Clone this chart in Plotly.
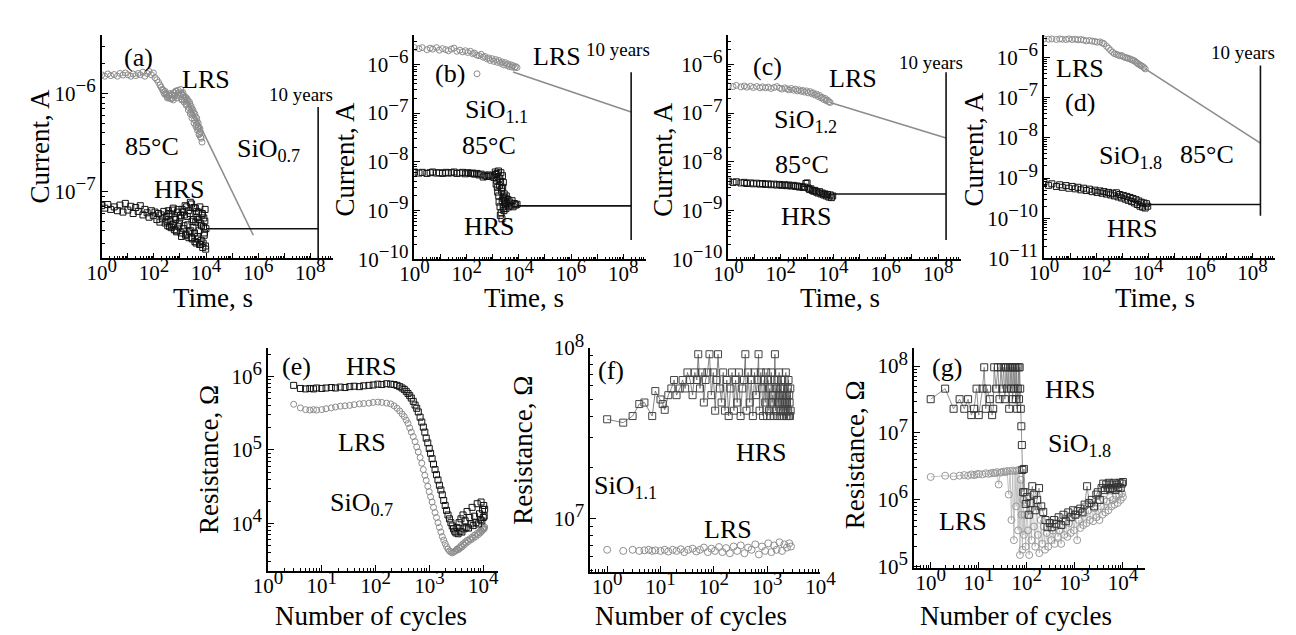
import plotly.graph_objects as go

W, H = 1296, 635
FONT = "Liberation Serif, Times New Roman, serif"
C_LRS = "#8c8c8c"
C_HRS = "#111111"

# ---------------- data ----------------
t_10y = 2.0e8  # position of the "10 years" marker on the time axis

# (a) SiO0.7
a_lrs_t = [1, 1.3, 1.7, 2.2, 3, 4, 5, 6.5, 8, 10,
           13, 16, 20, 25, 30, 38, 45, 55, 65, 80,
           95, 110, 130, 150, 170, 190, 210, 240, 270, 300,
           340, 380, 420, 470, 520, 580, 650, 720, 800, 900,
           1000, 1100, 1200, 1350, 1500, 1650, 1800, 2000, 2200, 2400,
           2600, 2800, 3000, 3300, 3600, 3900, 4200, 4500, 4800, 5200,
           5600, 6000, 6500, 7000,
           230, 260, 290, 330, 370, 410, 460, 510, 560, 620,
           690, 770, 860, 960, 1070, 1180, 1300, 1430, 1580, 1730,
           1900, 2100, 2300, 2500, 2700, 2900, 3150, 3450, 3750, 4100,
           4400, 4700, 5000, 5400, 5800, 6200]
a_lrs_i = [1.55e-6, 1.50e-6, 1.58e-6, 1.52e-6, 1.56e-6, 1.50e-6, 1.60e-6, 1.54e-6, 1.62e-6, 1.55e-6,
           1.50e-6, 1.58e-6, 1.52e-6, 1.60e-6, 1.55e-6, 1.65e-6, 1.50e-6, 1.60e-6, 1.68e-6, 1.55e-6,
           1.62e-6, 1.45e-6, 1.38e-6, 1.30e-6, 1.22e-6, 1.16e-6, 1.10e-6, 1.02e-6, 1.05e-6, 9.6e-7,
           9.2e-7, 9.5e-7, 8.9e-7, 9.8e-7, 9.0e-7, 1.02e-6, 9.5e-7, 1.05e-6, 9.8e-7, 1.02e-6,
           9.3e-7, 1.0e-6, 8.8e-7, 9.6e-7, 8.5e-7, 9.2e-7, 7.8e-7, 8.4e-7, 7.2e-7, 7.8e-7,
           6.5e-7, 7.0e-7, 6.0e-7, 6.4e-7, 5.4e-7, 5.8e-7, 4.8e-7, 5.2e-7, 4.4e-7, 4.6e-7,
           3.9e-7, 4.1e-7, 3.5e-7, 3.2e-7,
           1.08e-6, 9.8e-7, 1.0e-6, 9.0e-7, 9.6e-7, 1.0e-6, 8.8e-7, 9.6e-7, 8.6e-7, 9.4e-7,
           1.06e-6, 9.0e-7, 1.08e-6, 9.6e-7, 1.1e-6, 8.6e-7, 1.02e-6, 8.2e-7, 9.0e-7, 7.6e-7,
           8.8e-7, 6.8e-7, 8.2e-7, 6.2e-7, 7.4e-7, 5.6e-7, 6.8e-7, 5.0e-7, 6.2e-7, 4.6e-7,
           5.6e-7, 4.2e-7, 5.0e-7, 3.8e-7, 4.4e-7, 3.6e-7]
a_hrs_t = [1, 1.3, 1.7, 2.2, 3, 4, 5, 6.5, 8, 10,
           13, 16, 20, 25, 30, 38, 45, 55, 65, 80,
           95, 110, 130, 150, 170, 190, 210, 240, 270, 300,
           340, 380, 420, 470, 520, 580, 650, 720, 800, 900,
           1000, 1100, 1200, 1350, 1500, 1650, 1800, 2000, 2200, 2400,
           2600, 2800, 3000, 3300, 3600, 3900, 4200, 4500, 4800, 5200,
           5600, 6000, 6500, 7000, 7500, 8000, 8500, 9000, 9500, 9900,
           320, 360, 400, 450, 500, 550, 610, 680, 750, 850,
           950, 1050, 1150, 1280, 1420, 1580, 1720, 1900, 2100, 2300,
           2500, 2700, 2900, 3150, 3450, 3750, 4050, 4350, 4650, 5000,
           5400, 5800, 6200, 6700, 7200, 7700, 8200, 8700, 9200, 9700]
a_hrs_i = [7.2e-8, 6.8e-8, 7.4e-8, 6.6e-8, 7.0e-8, 6.4e-8, 7.3e-8, 6.2e-8, 7.6e-8, 6.5e-8,
           7.1e-8, 6.0e-8, 6.9e-8, 6.3e-8, 7.2e-8, 5.8e-8, 6.6e-8, 6.1e-8, 5.5e-8, 6.4e-8,
           5.7e-8, 6.2e-8, 5.2e-8, 6.0e-8, 4.9e-8, 5.8e-8, 5.3e-8, 6.3e-8, 4.8e-8, 5.6e-8,
           4.5e-8, 6.0e-8, 5.0e-8, 4.3e-8, 6.5e-8, 4.7e-8, 5.5e-8, 4.0e-8, 6.2e-8, 4.4e-8,
           5.4e-8, 3.8e-8, 6.6e-8, 4.2e-8, 5.8e-8, 3.6e-8, 7.0e-8, 4.6e-8, 3.4e-8, 6.0e-8,
           4.0e-8, 7.5e-8, 3.3e-8, 5.2e-8, 3.8e-8, 6.8e-8, 3.0e-8, 5.5e-8, 3.5e-8, 6.2e-8,
           2.9e-8, 4.8e-8, 3.2e-8, 5.8e-8, 2.7e-8, 4.4e-8, 3.6e-8, 5.0e-8, 2.8e-8, 4.2e-8,
           5.0e-8, 6.4e-8, 4.4e-8, 5.9e-8, 4.6e-8, 6.8e-8, 4.1e-8, 5.2e-8, 3.9e-8, 6.6e-8,
           4.8e-8, 5.7e-8, 3.5e-8, 6.2e-8, 4.5e-8, 7.2e-8, 3.7e-8, 5.6e-8, 6.4e-8, 3.9e-8,
           7.8e-8, 3.4e-8, 5.0e-8, 4.3e-8, 6.9e-8, 3.1e-8, 4.9e-8, 6.3e-8, 3.3e-8, 5.2e-8,
           4.0e-8, 7.0e-8, 2.9e-8, 4.5e-8, 6.0e-8, 3.0e-8, 5.4e-8, 3.8e-8, 6.6e-8, 2.6e-8]
a_lrs_fit_t = [1250, 6.5e5]
a_lrs_fit_i = [1.1e-6, 3.6e-8]
a_hrs_fit_t = [9900, t_10y]
a_hrs_fit_i = [4.2e-8, 4.2e-8]
a_10y_i = [7.3e-7, 2.1e-8]

# (b) SiO1.1
b_lrs_t = [1, 1.5, 2, 3, 4, 5, 7, 9, 12, 16,
           20, 26, 33, 42, 55, 70, 90, 110, 140, 170,
           200, 245, 250, 300, 360, 430, 500, 600, 700, 800,
           950, 1100, 1300, 1500, 1700, 2000, 2300, 2600, 3000, 3400,
           3800, 4300, 4800, 5400, 6000, 6800, 7500, 8500]
b_lrs_i = [2.2e-6, 2.1e-6, 2.2e-6, 2.0e-6, 2.15e-6, 2.05e-6, 2.2e-6, 1.95e-6, 2.1e-6, 2.0e-6,
           1.9e-6, 2.05e-6, 2.15e-6, 1.85e-6, 1.95e-6, 1.8e-6, 1.9e-6, 1.75e-6, 1.85e-6, 1.65e-6,
           1.7e-6, 1.55e-6, 6.4e-7, 1.5e-6, 1.6e-6, 1.4e-6, 1.45e-6, 1.3e-6, 1.35e-6, 1.2e-6,
           1.3e-6, 1.15e-6, 1.25e-6, 1.1e-6, 1.2e-6, 1.05e-6, 1.12e-6, 9.8e-7, 1.08e-6, 9.5e-7,
           1.02e-6, 9.0e-7, 9.8e-7, 8.8e-7, 9.4e-7, 8.6e-7, 9.0e-7, 8.6e-7]
b_hrs_t = [1, 1.5, 2, 3, 4, 5, 7, 9, 12, 16,
           20, 26, 33, 42, 55, 70, 90, 110, 140, 170,
           200, 250, 300, 360, 430, 500, 600, 700, 800, 950,
           1100, 1250, 1350, 1450, 1550, 1650, 1750, 1850, 1950, 2050,
           2150, 2250, 2350, 2450, 2550, 2650, 2750, 2900, 3100, 3300,
           3500, 3800, 4100, 4500, 5000, 5500, 6000, 6700, 7500, 8500,
           1300, 1400, 1500, 1600, 1700, 1800, 1900, 2000, 2100, 2200,
           2300, 2400, 2500, 2600, 2700, 2800, 3000, 3200]
b_hrs_i = [6.2e-9, 5.9e-9, 6.1e-9, 5.8e-9, 6.0e-9, 6.2e-9, 5.9e-9, 6.0e-9, 5.8e-9, 6.1e-9,
           5.9e-9, 6.0e-9, 6.2e-9, 5.8e-9, 5.9e-9, 6.1e-9, 5.7e-9, 6.0e-9, 5.8e-9, 5.9e-9,
           5.6e-9, 5.8e-9, 5.4e-9, 5.6e-9, 4.9e-9, 5.3e-9, 5.0e-9, 5.4e-9, 5.1e-9, 5.2e-9,
           4.8e-9, 6.2e-9, 3.5e-9, 5.8e-9, 2.4e-9, 6.5e-9, 1.5e-9, 4.6e-9, 8.0e-10, 6.0e-9,
           2.8e-9, 6.8e-10, 5.2e-9, 1.8e-9, 3.8e-9, 1.1e-9, 2.2e-9, 1.6e-9, 1.3e-9, 2.0e-9,
           1.4e-9, 1.7e-9, 1.2e-9, 1.5e-9, 1.3e-9, 1.6e-9, 1.2e-9, 1.4e-9, 1.3e-9, 1.35e-9,
           5.5e-9, 4.2e-9, 3.0e-9, 5.0e-9, 2.0e-9, 3.3e-9, 1.2e-9, 4.0e-9, 9.0e-10, 2.5e-9,
           1.6e-9, 3.0e-9, 1.2e-9, 1.9e-9, 1.0e-9, 1.5e-9, 1.8e-9, 1.1e-9]
b_lrs_fit_t = [6000, t_10y]
b_lrs_fit_i = [7.0e-7, 1.05e-7]
b_hrs_fit_t = [8500, t_10y]
b_hrs_fit_i = [1.25e-9, 1.25e-9]
b_10y_i = [6.9e-7, 2.5e-10]

# (c) SiO1.2
c_lrs_t = [1, 1.5, 2, 3, 4, 5, 7, 9, 12, 16,
           20, 26, 33, 42, 55, 70, 90, 110, 140, 170,
           200, 250, 300, 360, 430, 500, 600, 700, 800, 950,
           1100, 1300, 1500, 1700, 2000, 2300, 2600, 3000, 3400, 3800,
           4300, 4800, 5400, 6000, 6800, 7600]
c_lrs_i = [3.6e-7, 3.5e-7, 3.7e-7, 3.45e-7, 3.6e-7, 3.4e-7, 3.55e-7, 3.35e-7, 3.5e-7, 3.3e-7,
           3.45e-7, 3.3e-7, 3.4e-7, 3.2e-7, 3.35e-7, 3.5e-7, 3.25e-7, 3.1e-7, 3.3e-7, 3.15e-7,
           3.0e-7, 3.2e-7, 2.95e-7, 3.1e-7, 2.85e-7, 3.0e-7, 2.8e-7, 2.9e-7, 2.7e-7, 2.85e-7,
           2.6e-7, 2.75e-7, 2.5e-7, 2.6e-7, 2.35e-7, 2.45e-7, 2.2e-7, 2.3e-7, 2.05e-7, 2.1e-7,
           1.9e-7, 2.0e-7, 1.8e-7, 1.85e-7, 1.7e-7, 1.65e-7]
c_hrs_t = [1, 1.5, 2, 3, 4, 5, 7, 9, 12, 16,
           20, 26, 33, 42, 55, 70, 90, 110, 140, 170,
           200, 250, 300, 360, 430, 500, 600, 700, 800, 900,
           1000, 1100, 1250, 1400, 1600, 1800, 2000, 2300, 2600, 3000,
           3400, 3800, 4300, 4800, 5400, 6000, 6800, 7600, 8500, 9500]
c_hrs_i = [4.0e-9, 3.8e-9, 3.9e-9, 3.7e-9, 3.8e-9, 3.6e-9, 3.7e-9, 3.55e-9, 3.65e-9, 3.5e-9,
           3.6e-9, 3.45e-9, 3.55e-9, 3.4e-9, 3.5e-9, 3.35e-9, 3.45e-9, 3.3e-9, 3.4e-9, 3.25e-9,
           3.35e-9, 3.2e-9, 3.3e-9, 3.15e-9, 3.2e-9, 3.05e-9, 3.1e-9, 3.0e-9, 3.05e-9, 3.6e-9,
           3.7e-9, 2.9e-9, 2.7e-9, 2.8e-9, 2.6e-9, 2.5e-9, 2.6e-9, 2.4e-9, 2.3e-9, 2.45e-9,
           2.2e-9, 2.3e-9, 2.1e-9, 2.2e-9, 2.0e-9, 2.15e-9, 1.9e-9, 2.1e-9, 1.85e-9, 2.0e-9]
c_lrs_fit_t = [7600, t_10y]
c_lrs_fit_i = [1.65e-7, 3.1e-8]
c_hrs_fit_t = [9500, t_10y]
c_hrs_fit_i = [2.2e-9, 2.2e-9]
c_10y_i = [6.9e-7, 2.5e-10]

# (d) SiO1.8
d_lrs_t = [1, 1.5, 2, 3, 4, 5, 7, 9, 12, 16,
           20, 26, 33, 42, 55, 70, 90, 110, 140, 170,
           200, 250, 300, 360, 430, 500, 600, 700, 800, 950,
           1100, 1300, 1500, 1700, 2000, 2300, 2600, 3000, 3400, 3800,
           4300, 4800, 5400, 6000, 6800, 7600]
d_lrs_i = [2.9e-6, 2.85e-6, 2.9e-6, 2.8e-6, 2.9e-6, 2.85e-6, 2.8e-6, 2.9e-6, 2.8e-6, 2.85e-6,
           2.75e-6, 2.8e-6, 2.7e-6, 2.6e-6, 2.65e-6, 2.55e-6, 2.5e-6, 2.4e-6, 2.45e-6, 2.3e-6,
           2.2e-6, 1.9e-6, 1.7e-6, 1.5e-6, 1.35e-6, 1.25e-6, 1.2e-6, 1.15e-6, 1.1e-6, 1.12e-6,
           1.05e-6, 1.0e-6, 9.8e-7, 9.5e-7, 9.2e-7, 8.8e-7, 8.5e-7, 8.2e-7, 7.6e-7, 7.2e-7,
           6.8e-7, 6.5e-7, 6.2e-7, 6.0e-7, 5.6e-7, 5.2e-7]
d_hrs_t = [1, 1.5, 2, 3, 4, 5, 7, 9, 12, 16,
           20, 26, 33, 42, 55, 70, 90, 110, 140, 170,
           200, 250, 300, 360, 430, 500, 600, 700, 800, 950,
           1100, 1300, 1500, 1700, 2000, 2300, 2600, 3000, 3400, 3800,
           4300, 4800, 5400, 6000, 6800, 7600, 8500, 9500]
d_hrs_i = [7.8e-10, 6.6e-10, 7.2e-10, 6.2e-10, 6.8e-10, 5.9e-10, 6.5e-10, 5.6e-10, 6.2e-10, 5.4e-10,
           5.9e-10, 5.1e-10, 5.6e-10, 4.9e-10, 5.3e-10, 4.6e-10, 5.0e-10, 4.4e-10, 4.8e-10, 4.2e-10,
           4.6e-10, 4.0e-10, 4.4e-10, 3.8e-10, 4.2e-10, 3.6e-10, 4.3e-10, 3.4e-10, 3.9e-10, 3.2e-10,
           3.7e-10, 3.0e-10, 3.5e-10, 2.8e-10, 3.3e-10, 2.6e-10, 3.1e-10, 2.4e-10, 2.9e-10, 2.2e-10,
           2.7e-10, 2.0e-10, 2.5e-10, 1.9e-10, 2.4e-10, 1.8e-10, 2.3e-10, 2.0e-10]
d_lrs_fit_t = [7600, t_10y]
d_lrs_fit_i = [5.2e-7, 7.4e-9]
d_hrs_fit_t = [9500, t_10y]
d_hrs_fit_i = [2.2e-10, 2.2e-10]
d_10y_i = [6.3e-7, 1.15e-10]

# (e) SiO0.7 endurance
e_cycles = [3, 4, 5, 6, 7, 8, 10, 12, 15, 18,
            22, 27, 33, 40, 50, 60, 75, 90, 110, 130,
            160, 190, 220, 250, 280, 310, 340, 370, 400, 430,
            460, 500, 540, 580, 620, 670, 720, 770, 820, 870,
            930, 990, 1050, 1120, 1190, 1270, 1350, 1440, 1530, 1630,
            1730, 1840, 1960, 2080, 2210, 2350, 2500, 2650, 2800, 2950,
            3100, 3250, 3400, 3550, 3700, 3850, 4000, 4200, 4400, 4600,
            4800, 5000, 5300, 5600, 5900, 6200, 6500, 6900, 7300, 7700,
            8100, 8500, 8800, 9100, 9400, 9700, 10000, 10200, 10400, 10600]
e_hrs_r = [7.6e5, 6.9e5, 6.8e5, 6.9e5, 6.8e5, 7.0e5, 6.9e5, 7.0e5, 7.1e5, 7.0e5,
           7.2e5, 7.1e5, 7.3e5, 7.4e5, 7.3e5, 7.5e5, 7.6e5, 7.7e5, 7.9e5, 7.8e5,
           8.0e5, 7.9e5, 7.8e5, 7.6e5, 7.3e5, 7.0e5, 6.7e5, 6.3e5, 5.9e5, 5.5e5,
           5.1e5, 4.6e5, 4.1e5, 3.7e5, 3.3e5, 2.8e5, 2.4e5, 2.05e5, 1.75e5, 1.45e5,
           1.25e5, 1.05e5, 9.0e4, 7.6e4, 6.4e4, 5.4e4, 4.6e4, 3.9e4, 3.3e4, 2.85e4,
           2.45e4, 2.05e4, 1.75e4, 1.5e4, 1.3e4, 1.15e4, 1.02e4, 9.2e3, 8.4e3, 7.8e3,
           7.4e3, 8.8e3, 7.2e3, 1.02e4, 7.8e3, 1.15e4, 7.6e3, 1.3e4, 8.4e3, 1.08e4,
           8.8e3, 1.45e4, 8.6e3, 1.2e4, 9.8e3, 1.65e4, 9.3e3, 1.25e4, 1.02e4, 1.85e4,
           9.8e3, 1.35e4, 1.12e4, 1.95e4, 1.08e4, 1.55e4, 1.2e4, 1.75e4, 1.25e4, 1.55e4]
e_lrs_r = [4.2e5, 3.75e5, 3.55e5, 3.5e5, 3.55e5, 3.5e5, 3.55e5, 3.65e5, 3.75e5, 3.85e5,
           3.95e5, 4.0e5, 4.05e5, 4.15e5, 4.25e5, 4.3e5, 4.35e5, 4.45e5, 4.5e5, 4.45e5,
           4.35e5, 4.25e5, 4.0e5, 3.7e5, 3.4e5, 3.1e5, 2.85e5, 2.55e5, 2.3e5, 2.0e5,
           1.75e5, 1.52e5, 1.3e5, 1.1e5, 9.4e4, 7.9e4, 6.6e4, 5.4e4, 4.5e4, 3.85e4,
           3.2e4, 2.7e4, 2.3e4, 1.95e4, 1.65e4, 1.4e4, 1.2e4, 1.02e4, 8.8e3, 7.6e3,
           6.6e3, 5.9e3, 5.3e3, 4.8e3, 4.45e3, 4.2e3, 4.05e3, 3.95e3, 4.05e3, 4.15e3,
           4.25e3, 4.45e3, 4.35e3, 4.65e3, 4.55e3, 4.95e3, 4.75e3, 5.25e3, 5.05e3, 5.55e3,
           5.35e3, 5.85e3, 5.65e3, 6.15e3, 5.95e3, 6.5e3, 6.25e3, 6.9e3, 6.6e3, 7.3e3,
           7.0e3, 7.7e3, 7.4e3, 8.1e3, 7.8e3, 8.5e3, 8.2e3, 8.7e3, 8.4e3, 8.9e3]

# (f) SiO1.1 endurance
f_hrs_n = [1, 2, 3, 4, 5, 7, 8, 10, 11, 12, 14,
           16, 18, 20, 23, 26, 29, 32, 36, 40, 44,
           48, 51, 55, 60, 65, 70, 76, 83, 90, 98,
           106, 113, 120, 130, 140, 150, 162, 175, 190, 205,
           220, 238, 256, 275, 295, 318, 342, 368, 390, 410,
           440, 470, 505, 540, 580, 620, 660, 690, 720, 760,
           800, 840, 880, 920, 960, 1000, 1040, 1080, 1120, 1160,
           1200, 1240, 1280, 1320, 1360, 1400, 1440, 1480, 1520, 1560,
           1600, 1640, 1680, 1720, 1760, 1800, 1840, 1880, 1920, 1960,
           2000, 2040, 2080, 2120, 2160, 2200, 2240, 2280, 2320, 2360,
           2400, 2440, 2480, 2520, 2560, 2600, 2640, 2680, 2720, 2760]
f_hrs_r = [3.83e7, 3.66e7, 4.0e7, 4.7e7, 4.8e7, 4.0e7, 5.6e7, 5.0e7, 4.7e7, 4.35e7, 5.3e7,
           5.8e7, 6.5e7, 5.3e7, 5.8e7, 6.5e7, 5.8e7, 7.2e7, 6.5e7, 5.3e7, 7.2e7,
           6.5e7, 9.2e7, 5.8e7, 7.2e7, 4.8e7, 6.5e7, 7.2e7, 9.2e7, 5.3e7, 7.2e7,
           4.3e7, 6.5e7, 9.2e7, 5.8e7, 4.8e7, 7.2e7, 4.3e7, 6.5e7, 4.0e7, 5.8e7,
           7.2e7, 4.3e7, 6.5e7, 4.8e7, 7.2e7, 4.0e7, 5.8e7, 6.5e7, 9.2e7, 4.3e7,
           7.2e7, 4.8e7, 6.5e7, 4.0e7, 7.2e7, 5.3e7, 6.5e7, 9.2e7, 4.3e7, 7.2e7,
           5.8e7, 4.0e7, 6.5e7, 4.8e7, 7.2e7, 4.0e7, 6.5e7, 4.3e7, 5.8e7, 4.0e7,
           7.2e7, 4.8e7, 5.3e7, 4.0e7, 6.5e7, 9.2e7, 4.3e7, 5.8e7, 4.0e7, 6.5e7,
           4.8e7, 5.3e7, 7.2e7, 4.0e7, 5.8e7, 4.3e7, 6.5e7, 4.8e7, 4.0e7, 5.3e7,
           4.3e7, 5.8e7, 4.0e7, 6.5e7, 4.8e7, 4.3e7, 7.2e7, 4.0e7, 5.3e7, 4.8e7,
           4.0e7, 5.8e7, 4.3e7, 6.5e7, 4.0e7, 5.3e7, 4.8e7, 4.0e7, 5.8e7, 4.3e7]
f_lrs_n = [1, 2, 3, 4, 5, 6, 7, 8, 10, 12,
           14, 17, 20, 24, 28, 33, 40, 47, 55, 65,
           77, 90, 105, 125, 145, 170, 200, 235, 275, 320,
           375, 440, 510, 600, 700, 800, 920, 1050, 1200, 1350,
           1500, 1700, 1900, 2100, 2350, 2600, 2800]
f_lrs_r = [6.6e6, 6.5e6, 6.6e6, 6.5e6, 6.55e6, 6.6e6, 6.5e6, 6.55e6, 6.5e6, 6.6e6,
           6.45e6, 6.6e6, 6.5e6, 6.65e6, 6.4e6, 6.6e6, 6.7e6, 6.45e6, 6.6e6, 6.8e6,
           6.4e6, 6.7e6, 6.5e6, 6.85e6, 6.4e6, 6.75e6, 6.3e6, 6.9e6, 6.5e6, 7.0e6,
           6.3e6, 6.8e6, 6.6e6, 7.1e6, 6.2e6, 6.9e6, 6.5e6, 7.2e6, 6.4e6, 7.0e6,
           6.6e6, 7.3e6, 6.5e6, 7.1e6, 6.8e6, 7.2e6, 6.9e6]

# (g) SiO1.8 endurance
g_hrs_n = [1, 2, 3, 4, 5, 6, 7, 8, 9, 10,
           12, 13, 14, 15, 17, 19, 20, 21, 23, 25,
           27, 29, 31, 33, 35, 37, 39, 41, 43, 45,
           47, 49, 51, 53, 55, 57, 59, 61, 63, 65,
           67, 69, 71, 73, 75, 77, 79, 81, 84, 87,
           90, 95, 100, 110, 120, 130, 140, 150, 165, 180,
           200, 220, 245, 270, 300, 330, 370, 410, 460, 520,
           580, 650, 730, 820, 920, 1030, 1150, 1300, 1450, 1600,
           1800, 2000, 2250, 2500, 2800, 3000, 3300, 3600, 3900, 4200,
           4500, 4800, 5100, 5400, 5800, 6200, 6600, 7000, 7500, 8000,
           8500, 9000, 9500, 10000]
g_hrs_r = [3.2e7, 4.6e7, 2.3e7, 3.2e7, 2.3e7, 3.2e7, 1.85e7, 2.3e7, 4.6e7, 1.85e7,
           4.6e7, 9.6e7, 2.3e7, 4.6e7, 3.2e7, 1.85e7, 2.3e7, 9.6e7, 4.6e7, 9.6e7,
           3.2e7, 9.6e7, 4.6e7, 9.6e7, 3.2e7, 9.6e7, 4.6e7, 9.6e7, 2.3e7, 9.6e7,
           4.6e7, 9.6e7, 3.2e7, 9.6e7, 4.6e7, 9.6e7, 3.2e7, 9.6e7, 2.3e7, 4.6e7,
           9.6e7, 3.2e7, 9.6e7, 4.6e7, 2.3e7, 1.26e7, 6.6e6, 2.8e6, 1.3e6, 2.9e6,
           1.3e6, 8.7e5, 1.1e6, 6.0e5, 9.0e5, 1.6e6, 1.2e6, 7.0e5, 1.0e6, 1.5e6,
           8.0e5, 6.6e5, 5.0e5, 3.9e5, 4.5e5, 3.9e5, 5.0e5, 4.4e5, 5.5e5, 4.2e5,
           6.0e5, 4.8e5, 6.5e5, 5.5e5, 7.0e5, 6.0e5, 6.8e5, 7.4e5, 6.5e5, 8.5e5,
           1.6e6, 9.0e5, 1.0e6, 8.0e5, 1.2e6, 1.3e6, 1.0e6, 1.5e6, 1.75e6, 1.4e6,
           1.7e6, 1.5e6, 1.8e6, 1.45e6, 1.7e6, 1.5e6, 1.8e6, 1.4e6, 1.7e6, 1.55e6,
           1.8e6, 1.5e6, 1.75e6, 1.85e6]
g_lrs_n = [1, 2, 3, 4, 5, 6, 7, 8, 9, 10,
           12, 14, 16, 18, 20, 22, 24, 26, 28, 30,
           33, 36, 39, 42, 45, 48, 51, 54, 57, 60,
           63, 66, 69, 72, 75, 78, 81, 84, 87, 90,
           95, 100, 106, 112, 118, 125, 132, 140, 150, 160,
           170, 182, 195, 210, 225, 240, 260, 280, 300, 325,
           350, 380, 410, 445, 480, 520, 560, 600, 650, 700,
           760, 820, 890, 960, 1040, 1120, 1210, 1300, 1400, 1500,
           1620, 1750, 1900, 2050, 2200, 2400, 2600, 2800, 3000, 3250,
           3500, 3750, 4000, 4300, 4600, 5000, 5400, 5800, 6200, 6700,
           7200, 7800, 8400, 9000, 9600, 10000]
g_lrs_r = [2.2e6, 2.3e6, 2.25e6, 2.3e6, 2.35e6, 2.3e6, 2.4e6, 2.35e6, 2.4e6, 2.45e6,
           2.4e6, 2.5e6, 2.45e6, 2.5e6, 2.55e6, 2.5e6, 2.6e6, 1.7e6, 2.55e6, 2.6e6,
           2.65e6, 2.6e6, 2.7e6, 1.2e6, 2.7e6, 5.0e5, 2.75e6, 2.5e5, 2.7e6, 8.0e5,
           2.75e6, 3.5e5, 2.8e6, 1.5e5, 2.0e6, 6.0e5, 1.8e5, 1.0e6, 3.0e5, 6.0e5,
           2.0e5, 9.0e5, 3.5e5, 1.5e5, 7.0e5, 2.5e5, 1.2e6, 4.0e5, 2.0e5, 8.0e5,
           3.0e5, 1.6e5, 5.0e5, 2.2e5, 4.0e5, 1.8e5, 3.2e5, 2.0e5, 4.5e5, 2.5e5,
           3.5e5, 2.2e5, 4.0e5, 2.8e5, 3.5e5, 2.2e5, 4.2e5, 3.0e5, 5.0e5, 2.8e5,
           4.5e5, 3.2e5, 5.5e5, 3.5e5, 6.0e5, 2.5e5, 5.0e5, 3.8e5, 6.5e5, 4.2e5,
           8.0e5, 4.5e5, 7.0e5, 5.0e5, 8.5e5, 4.8e5, 7.5e5, 5.5e5, 9.0e5, 5.0e5,
           8.0e5, 6.0e5, 1.0e6, 6.5e5, 9.5e5, 7.0e5, 1.1e6, 8.0e5, 1.0e6, 8.5e5,
           1.15e6, 9.0e5, 1.2e6, 1.0e6, 1.25e6, 1.1e6]

for xs, ys in [(a_lrs_t, a_lrs_i), (a_hrs_t, a_hrs_i), (b_lrs_t, b_lrs_i), (b_hrs_t, b_hrs_i),
               (c_lrs_t, c_lrs_i), (c_hrs_t, c_hrs_i), (d_lrs_t, d_lrs_i), (d_hrs_t, d_hrs_i),
               (e_cycles, e_hrs_r), (e_cycles, e_lrs_r), (f_hrs_n, f_hrs_r), (f_lrs_n, f_lrs_r),
               (g_hrs_n, g_hrs_r), (g_lrs_n, g_lrs_r)]:
    assert len(xs) == len(ys), (len(xs), len(ys))

# ---------------- layout helpers ----------------
SUP_PX = 19


def sup(e):
    s = ("\u2212" if e < 0 else "") + str(abs(e))
    return "10<sup><span style='font-size:%dpx'>%s</span></sup>" % (SUP_PX, s)


def minors(lo, hi):
    return [m * 10.0 ** e for e in range(lo, hi) for m in range(2, 10)]


# panel geometry in pixels: (x0, x1, y_top, y_bottom), log ranges, ticks
panels = [
    dict(px=(80.7, 317.3, 9, 244), xr=(0, 8.86), yr=(-7.68, -5.40),
         xmaj=range(0, 9), xlab=lambda e: e % 2 == 0, ymaj=[-7, -6]),
    dict(px=(401, 638, 9, 245), xr=(0, 8.86), yr=(-10.0, -5.39),
         xmaj=range(0, 9), xlab=lambda e: e % 2 == 0, ymaj=[-10, -9, -8, -7, -6]),
    dict(px=(722.7, 960.7, 9, 245), xr=(0, 8.86), yr=(-10.0, -5.39),
         xmaj=range(0, 9), xlab=lambda e: e % 2 == 0, ymaj=[-10, -9, -8, -7, -6]),
    dict(px=(1046, 1282.7, 9, 244), xr=(0, 8.86), yr=(-11.0, -5.43),
         xmaj=range(0, 9), xlab=lambda e: e % 2 == 0, ymaj=[-11, -10, -9, -8, -7, -6]),
    dict(px=(251, 487, 338, 572), xr=(0, 4.28), yr=(3.35, 6.39),
         xmaj=range(0, 5), xlab=lambda e: True, ymaj=[4, 5, 6]),
    dict(px=(581, 817, 338, 573), xr=(-0.32, 4.0), yr=(6.69, 8.0),
         xmaj=range(0, 5), xlab=lambda e: True, ymaj=[7, 8]),
    dict(px=(912.7, 1149, 338, 569), xr=(-0.35, 4.45), yr=(4.98, 8.27),
         xmaj=range(0, 5), xlab=lambda e: True, ymaj=[5, 6, 7, 8]),
]

fig = go.Figure()
layout_axes = {}
tickfont = dict(family=FONT, size=21, color="black")
for i, p in enumerate(panels, 1):
    x0, x1, yt, yb = p["px"]
    xk = "xaxis" if i == 1 else f"xaxis{i}"
    yk = "yaxis" if i == 1 else f"yaxis{i}"
    xmaj = list(p["xmaj"])
    common = dict(type="log", tickmode="array", ticks="inside", ticklen=6, tickwidth=1,
                  tickcolor="black", showline=True, linecolor="black", linewidth=1.5,
                  showgrid=False, zeroline=False, tickfont=tickfont)
    layout_axes[xk] = dict(
        common, domain=[x0 / W, x1 / W], range=list(p["xr"]),
        anchor="y" if i == 1 else f"y{i}",
        tickvals=[10.0 ** e for e in xmaj],
        ticktext=[sup(e) if p["xlab"](e) else " " for e in xmaj],
        ticklabelstandoff=-5,
        minor=dict(tickmode="array",
                   tickvals=minors(int(p["xr"][0]) - 1, int(p["xr"][1]) + 1),
                   ticks="inside", ticklen=3, tickwidth=1, tickcolor="black", showgrid=False),
    )
    layout_axes[yk] = dict(
        common, domain=[1 - yb / H, 1 - yt / H], range=list(p["yr"]),
        anchor="x" if i == 1 else f"x{i}",
        tickvals=[10.0 ** e for e in p["ymaj"]],
        ticktext=[sup(e) for e in p["ymaj"]],
        minor=dict(tickmode="array",
                   tickvals=minors(int(p["yr"][0]) - 1, int(p["yr"][1]) + 1),
                   ticks="inside", ticklen=3, tickwidth=1, tickcolor="black", showgrid=False),
    )


def add(i, x, y, **kw):
    fig.add_trace(go.Scatter(x=x, y=y, xaxis="x" if i == 1 else f"x{i}",
                             yaxis="y" if i == 1 else f"y{i}",
                             showlegend=False, hoverinfo="skip", **kw))


def pts(i, x, y, symbol, size, color, line=None):
    kw = dict(mode="markers", marker=dict(symbol=symbol, size=size, color=color, line=dict(width=1)))
    if line:
        kw["mode"] = "lines+markers"
        kw["line"] = dict(color=line, width=0.8)
    add(i, x, y, **kw)


def seg(i, x, y, color, width=1.6):
    add(i, x, y, mode="lines", line=dict(color=color, width=width))


# top row: retention
for i, (lt, li, ht, hi, lft, lfi, hft, hfi, ty) in enumerate([
    (a_lrs_t, a_lrs_i, a_hrs_t, a_hrs_i, a_lrs_fit_t, a_lrs_fit_i, a_hrs_fit_t, a_hrs_fit_i, a_10y_i),
    (b_lrs_t, b_lrs_i, b_hrs_t, b_hrs_i, b_lrs_fit_t, b_lrs_fit_i, b_hrs_fit_t, b_hrs_fit_i, b_10y_i),
    (c_lrs_t, c_lrs_i, c_hrs_t, c_hrs_i, c_lrs_fit_t, c_lrs_fit_i, c_hrs_fit_t, c_hrs_fit_i, c_10y_i),
    (d_lrs_t, d_lrs_i, d_hrs_t, d_hrs_i, d_lrs_fit_t, d_lrs_fit_i, d_hrs_fit_t, d_hrs_fit_i, d_10y_i),
], 1):
    seg(i, lft, lfi, C_LRS)
    seg(i, hft, hfi, C_HRS)
    seg(i, [t_10y, t_10y], ty, C_HRS)
    pts(i, lt, li, "circle-open", 6, C_LRS)
    pts(i, ht, hi, "square-open", 6, C_HRS)

# bottom row: endurance
pts(5, e_cycles, e_lrs_r, "circle-open", 6, C_LRS)
pts(5, e_cycles, e_hrs_r, "square-open", 6, C_HRS)
pts(6, f_lrs_n, f_lrs_r, "circle-open", 7, "#8f8f8f")
pts(6, f_hrs_n, f_hrs_r, "square-open", 7, "#444444", line="#666666")
pts(7, g_lrs_n, g_lrs_r, "circle-open", 7, "#9a9a9a", line="#b5b5b5")
pts(7, g_hrs_n, g_hrs_r, "square-open", 7, "#333333", line="#777777")


# ---------------- annotations ----------------
def ann(text, px, py, size=26, angle=0):
    return dict(text=text, x=px / W, y=1 - py / H, xref="paper", yref="paper",
                showarrow=False, xanchor="center", yanchor="middle", textangle=angle,
                font=dict(family=FONT, size=size, color="black"))


anns = []
for (cx, cy) in [(17, 127), (330, 140), (656, 140), (974, 130)]:
    anns.append(ann("Current, A", cx, cy, 27, -90))
for cx in [195, 513, 837, 1160]:
    anns.append(ann("Time, s", cx, 286, 27))
for (cx, cy) in [(190, 455), (512, 445), (852, 450)]:
    anns.append(ann("Resistance, \u03a9", cx, cy, 27, -90))
for cx in [357, 684, 1017]:
    anns.append(ann("Number of cycles", cx, 619, 27))

texts = [
    ("(a)", 118, 33), ("LRS", 187, 56), ("85°C", 132, 127), ("SiO<sub>0.7</sub>", 252, 130), ("HRS", 160, 172),
    ("(b)", 437, 50), ("LRS", 547, 32), ("SiO<sub>1.1</sub>", 485, 89), ("85°C", 477, 125), ("HRS", 478, 210),
    ("(c)", 763, 42), ("LRS", 850, 55), ("SiO<sub>1.2</sub>", 802, 100), ("85°C", 798, 145), ("HRS", 803, 200),
    ("LRS", 1083, 45), ("(d)", 1083, 80), ("SiO<sub>1.8</sub>", 1135, 137), ("85°C", 1213, 135), ("HRS", 1137, 213),
    ("(e)", 280, 357), ("HRS", 357, 357), ("LRS", 347, 437), ("SiO<sub>0.7</sub>", 347, 502),
    ("(f)", 602, 362), ("HRS", 757, 448), ("SiO<sub>1.1</sub>", 617, 484), ("LRS", 722, 528),
    ("(g)", 947, 358), ("HRS", 1073, 382), ("SiO<sub>1.8</sub>", 1082, 440), ("LRS", 963, 520),
]
for t, x, y in texts:
    anns.append(ann(t, x, y, 26))
for (x, y) in [(285, 72), (610, 25), (930, 38), (1250, 28)]:
    anns.append(ann("10 years", x, y, 19))

fig.update_layout(
    width=W, height=H, margin=dict(l=0, r=0, t=0, b=0),
    paper_bgcolor="white", plot_bgcolor="white",
    font=dict(family=FONT, color="black"),
    annotations=anns, showlegend=False,
    **layout_axes,
)

fig.write_html("out.html")
